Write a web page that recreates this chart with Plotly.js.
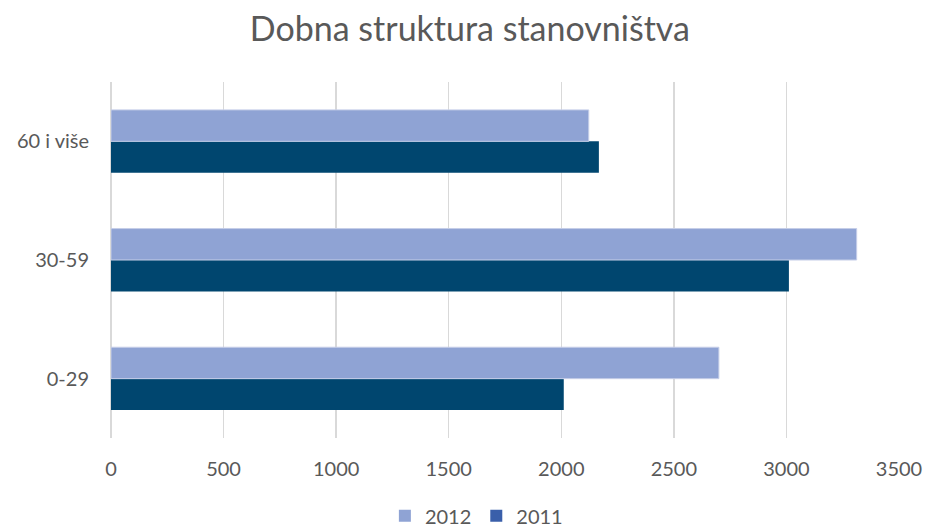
<!DOCTYPE html>
<html><head><meta charset="utf-8">
<script src="https://cdn.plot.ly/plotly-3.0.1.min.js"></script>
<style>html,body{margin:0;padding:0;background:#fff}#chart{width:925px;height:528px}</style>
</head><body><div id="chart"></div>
<script>
const categories = ["0-29", "30-59", "60 i više"];
const values2012 = [2700, 3312, 2122];
const values2011 = [2011, 3011, 2167];
const seriesNames = ["2012", "2011"];
const tickValues = [0, 500, 1000, 1500, 2000, 2500, 3000, 3500];

const c2012 = "#8FA3D4", c2011 = "#00466F", cLeg2011 = "#3A5FAA";
const font = "Lato, 'Open Sans', sans-serif";

const traces = [
  {type:"bar", orientation:"h", name:seriesNames[1], y:categories, x:values2011, offsetgroup:"b",
   marker:{color:c2011, line:{width:0}}, showlegend:false, hoverinfo:"x"},
  {type:"bar", orientation:"h", name:seriesNames[0], y:categories, x:values2012, offsetgroup:"a",
   marker:{color:c2012, line:{color:"#C5CEE8", width:1}}, showlegend:false, hoverinfo:"x"},
  {type:"bar", orientation:"h", name:seriesNames[0], y:[categories[0]], x:[0], offsetgroup:"a",
   marker:{color:c2012, line:{width:0}}, legendrank:1, hoverinfo:"skip"},
  {type:"bar", orientation:"h", name:seriesNames[1], y:[categories[0]], x:[0], offsetgroup:"b",
   marker:{color:cLeg2011, line:{width:0}}, legendrank:2, hoverinfo:"skip"}
];

const layout = {
  width:925, height:528,
  margin:{l:111, r:26, t:82, b:90, autoexpand:false},
  paper_bgcolor:"#fff", plot_bgcolor:"#fff",
  font:{family:font, color:"#595959", size:20},
  title:{text:"Dobna struktura stanovništva", x:0.508, xanchor:"center", y:0.945, yanchor:"middle",
         font:{family:font, size:34, color:"#595959"}},
  barmode:"group", bargap:0.47, bargroupgap:0,
  xaxis:{range:[0,3500], tickvals:tickValues, ticktext:tickValues.map(String), automargin:false,
         showgrid:true, gridcolor:"#D9D9D9", gridwidth:1.5, zeroline:true, zerolinecolor:"#D9D9D9",
         zerolinewidth:1.5, showline:false, ticks:"", ticklabelstandoff:17, fixedrange:true,
         tickfont:{size:20, color:"#595959"}},
  yaxis:{type:"category", range:[-0.5,2.5], showgrid:false, zeroline:false, showline:false, automargin:false,
         ticks:"", ticklabelstandoff:21, tickfont:{size:20, color:"#595959"}, fixedrange:true},
  legend:{orientation:"h", xref:"container", x:0.515, xanchor:"center", yref:"container", y:0.023, yanchor:"middle",
          font:{size:20, color:"#595959"}, traceorder:"normal", itemwidth:30},
  showlegend:true
};
Plotly.newPlot("chart", traces, layout, {displayModeBar:false, staticPlot:true});
</script></body></html>
